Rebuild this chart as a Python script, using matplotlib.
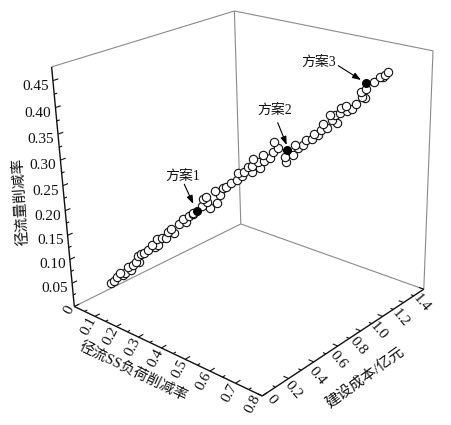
import numpy as np
import matplotlib
matplotlib.use('Agg')
import matplotlib.pyplot as plt

# ---------- data ----------
ss_reduction = [.087,.095,.102,.109,.115,.120,.128,.133,.140,.147,.154,.151,.159,.166,.176,.184,.191,.199,.197,.208,.217,.222,.229,.235,.246,.256,.263,.271,.278,.279,.300,.303,.310,.312,.317,.333,.330,.341,.347,.354,.365,.378,.381,.389,.395,.404,.413,.415,.413,.426,.430,.436,.439,.453,.458,.462,.469,.485,.486,.503,.506,.514,.525,.530,.543,.549,.556,.563,.568,.575,.586,.582,.593,.597,.604,.606,.617,.618,.629,.638,.649,.651,.657,.659,.677,.689,.696,.699,.706]
cost = [.152,.167,.179,.191,.201,.210,.224,.233,.245,.257,.269,.265,.278,.291,.308,.322,.334,.348,.345,.364,.379,.389,.400,.412,.431,.448,.460,.474,.487,.488,.525,.531,.542,.546,.555,.582,.578,.596,.607,.620,.638,.661,.666,.681,.691,.707,.722,.727,.723,.746,.752,.763,.768,.792,.801,.808,.821,.848,.851,.880,.886,.899,.918,.928,.950,.960,.973,.985,.994,1.007,1.026,1.019,1.038,1.045,1.057,1.061,1.079,1.082,1.101,1.116,1.135,1.140,1.150,1.154,1.184,1.205,1.218,1.224,1.236]
runoff = [.046,.050,.059,.067,.063,.067,.079,.072,.082,.089,.087,.100,.104,.107,.112,.122,.118,.121,.133,.135,.136,.146,.154,.144,.162,.172,.165,.178,.181,.184,.197,.210,.215,.205,.191,.202,.225,.217,.230,.233,.241,.245,.260,.252,.261,.271,.259,.285,.272,.278,.268,.292,.281,.286,.297,.316,.304,.287,.276,.290,.309,.303,.308,.318,.320,.328,.326,.336,.347,.338,.354,.364,.363,.347,.366,.375,.379,.370,.374,.382,.405,.395,.392,.410,.423,.431,.430,.434,.440]
scheme_names = ['方案1', '方案2', '方案3']
scheme_ss = [.288, .489, .659]
scheme_cost = [.504, .856, 1.153]
scheme_runoff = [.187, .300, .421]
ss_ticks = [0, .1, .2, .3, .4, .5, .6, .7, .8]
ss_labels = ['0', '0.1', '0.2', '0.3', '0.4', '0.5', '0.6', '0.7', '0.8']
cost_ticks = [0, .2, .4, .6, .8, 1.0, 1.2, 1.4]
cost_labels = ['0', '0.2', '0.4', '0.6', '0.8', '1.0', '1.2', '1.4']
runoff_ticks = [.05, .10, .15, .20, .25, .30, .35, .40, .45]
runoff_labels = ['0.05', '0.10', '0.15', '0.20', '0.25', '0.30', '0.35', '0.40', '0.45']

# ---------- layout ----------
W, H = 451, 425
XMAX, YMAX, ZMAX = 0.8, 1.4, 0.475
CAMERA = np.array([[190.18737, 144.26544, -56.90337, 74.30538],
                   [44.27347, -35.41282, -516.28431, 306.51841],
                   [-0.17049, 0.10523, -0.17671, 1.0]])
DEPTH = np.array([-0.4, 0.25, -0.6, 1.0])
SS_OFF = [(-5, 3)] + [(-5.7, 9.7)] * 7 + [(-9.7, 8)]
COST_OFF = [(9.5, 3.4), (4.7, 11.5), (3, 14), (.5, 14), (-2.4, 14.8), (-3.7, 14.6), (-3, 16), (-2, 14)]
SCHEME_LABEL_POS = [(182.7, 176.7), (274.3, 110.7), (319, 62.7)]
ARROW_TAIL = [(184.3, 184.3), (277.7, 122.7), (338.3, 65.7)]
ARROW_HEAD = [(193.3, 204), (286.7, 145), (361, 80)]
FONT = ['Liberation Serif', 'Noto Sans CJK SC']
plt.rcParams['font.family'] = FONT


def project(x, y, z):
    u, v, w = CAMERA @ np.array([x, y, z, 1.0])
    return u / w, v / w


fig = plt.figure(figsize=(W / 100, H / 100), dpi=100)
ax = fig.add_axes([0, 0, 1, 1], projection='3d', proj_type='ortho', computed_zorder=False)
ax.set_axis_off()
ax.patch.set_alpha(0)
ax.set_xlim(0, XMAX)
ax.set_ylim(0, YMAX)
ax.set_zlim(0, ZMAX)


def camera_proj():
    inv = ax.transData.inverted()
    o = inv.transform((0, 0))
    ex = inv.transform((1, 0)) - o
    ey = inv.transform((0, 1)) - o
    disp = np.array([[1, 0, 0], [0, -1, H], [0, 0, 1.0]])
    affine = np.array([[ex[0], ey[0], o[0]], [ex[1], ey[1], o[1]], [0, 0, 1.0]])
    c = affine @ disp @ CAMERA
    return np.vstack([c[0], c[1], DEPTH, c[2]])


ax.get_proj = camera_proj


def seg(a, b, **kw):
    ax.plot([a[0], b[0]], [a[1], b[1]], [a[2], b[2]], solid_capstyle='butt', **kw)


GREY = dict(color='#8a8a8a', lw=0.8, zorder=1)
BLACK = dict(color='#111111', lw=1.0, zorder=2)
seg((0, 0, 0), (0, YMAX, 0), **GREY)
seg((0, YMAX, 0), (XMAX, YMAX, 0), **GREY)
seg((0, YMAX, 0), (0, YMAX, ZMAX), **GREY)
seg((0, 0, ZMAX), (0, YMAX, ZMAX), **GREY)
seg((0, YMAX, ZMAX), (XMAX, YMAX, ZMAX), **GREY)
seg((XMAX, YMAX, 0), (XMAX, YMAX, ZMAX), **GREY)
seg((0, 0, 0), (XMAX, 0, 0), **BLACK)
seg((XMAX, 0, 0), (XMAX, YMAX, 0), **BLACK)
seg((0, 0, 0), (0, 0, ZMAX), **BLACK)

TICK = dict(color='#111111', lw=0.8, zorder=2)
for t in np.arange(0, XMAX + 1e-6, 0.05):
    major = abs(t * 10 - round(t * 10)) < 1e-6
    seg((t, 0, 0), (t, 0.036 if major else 0.02, 0), **TICK)
for t in np.arange(0, YMAX + 1e-6, 0.1):
    major = abs(t * 5 - round(t * 5)) < 1e-6
    seg((XMAX, t, 0), (XMAX - (0.019 if major else 0.011), t, 0), **TICK)
for t in np.arange(0.025, ZMAX, 0.025):
    major = abs(t * 20 - round(t * 20)) < 1e-6
    seg((0, 0, t), (0, 0.036 if major else 0.02, t), **TICK)

ax.scatter(ss_reduction, cost, runoff, s=36, facecolors='white', edgecolors='#111111',
           linewidths=0.8, depthshade=False, zorder=3, alpha=1)
ax.scatter(scheme_ss, scheme_cost, scheme_runoff, s=32, facecolors='black', edgecolors='black',
           linewidths=0.8, depthshade=False, zorder=4)


def label(u, v, s, size=11, rotation=0, ha='center'):
    fig.text(u / W, 1 - v / H, s, fontsize=size, rotation=rotation, ha=ha, va='center',
             rotation_mode='anchor', color='#111111', family=FONT)


for t, s, (dx, dy) in zip(ss_ticks, ss_labels, SS_OFF):
    u, v = project(t, 0, 0)
    label(u + dx, v + dy, s, rotation=62)
for t, s, (dx, dy) in zip(cost_ticks, cost_labels, COST_OFF):
    u, v = project(XMAX, t, 0)
    label(u + dx, v + dy, s, rotation=-50)
for t, s in zip(runoff_ticks, runoff_labels):
    u, v = project(0, 0, t)
    label(u - 4, v + 5.5, s, ha='right')

label(133, 371, '径流SS负荷削减率', size=10.5, rotation=-26)
label(365, 377.5, '建设成本/亿元', size=10.7, rotation=36)
label(20.5, 202, '径流量削减率', size=10.5, rotation=93.5)

for name, lp, tail, head in zip(scheme_names, SCHEME_LABEL_POS, ARROW_TAIL, ARROW_HEAD):
    label(lp[0], lp[1], name, size=10)
    ax.annotate('', xy=(head[0], H - head[1]), xytext=(tail[0], H - tail[1]),
                xycoords='figure pixels', textcoords='figure pixels',
                arrowprops=dict(arrowstyle='-|>,head_length=0.5,head_width=0.18', color='black',
                                lw=0.8, shrinkA=0, shrinkB=0))

fig.savefig('out.png', dpi=100)
